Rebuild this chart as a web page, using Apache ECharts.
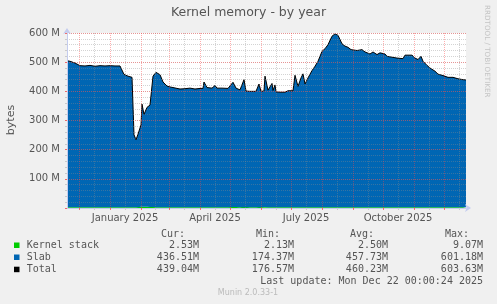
<!DOCTYPE html>
<html><head><meta charset="utf-8">
<script src="https://cdn.jsdelivr.net/npm/echarts@6/dist/echarts.min.js"></script>
<style>html,body{margin:0;padding:0;background:#F0F0F0;}#c{width:497px;height:304px;}</style>
</head><body><div id="c"></div>
<script>
// ---- data ----
const dates = ['2024-11-19','2024-11-22','2024-11-27','2024-12-02','2024-12-07','2024-12-12','2024-12-17','2024-12-22','2024-12-27',
'2025-01-01','2025-01-06','2025-01-11','2025-01-13','2025-01-15','2025-01-19','2025-01-23','2025-01-25','2025-01-27','2025-01-29',
'2025-02-01','2025-02-02','2025-02-04','2025-02-07','2025-02-10','2025-02-12','2025-02-13','2025-02-16','2025-02-20','2025-02-23','2025-02-27',
'2025-03-02','2025-03-05','2025-03-09','2025-03-12','2025-03-17','2025-03-22','2025-03-27',
'2025-04-01','2025-04-04','2025-04-05','2025-04-08','2025-04-13','2025-04-16','2025-04-18','2025-04-23','2025-04-29',
'2025-05-04','2025-05-07','2025-05-11','2025-05-15','2025-05-17','2025-05-21','2025-05-27','2025-05-30',
'2025-06-01','2025-06-04','2025-06-05','2025-06-08','2025-06-12','2025-06-13','2025-06-15','2025-06-16','2025-06-20','2025-06-25','2025-06-28',
'2025-07-03','2025-07-05','2025-07-08','2025-07-11','2025-07-13','2025-07-15','2025-07-18','2025-07-22','2025-07-25','2025-07-28',
'2025-08-01','2025-08-04','2025-08-07','2025-08-11','2025-08-14','2025-08-17','2025-08-19','2025-08-21','2025-08-24','2025-08-27','2025-08-30',
'2025-09-01','2025-09-05','2025-09-10','2025-09-13','2025-09-18','2025-09-21','2025-09-25','2025-09-28',
'2025-10-03','2025-10-05','2025-10-10','2025-10-15','2025-10-21','2025-10-23','2025-10-30',
'2025-11-02','2025-11-05','2025-11-08','2025-11-10','2025-11-14','2025-11-17','2025-11-22','2025-11-25','2025-11-30',
'2025-12-05','2025-12-10','2025-12-15','2025-12-20','2025-12-23'];

const kernelStack = [2.5,2.5,2.5,2.5,2.5,2.5,2.5,2.5,2.5,
2.5,2.5,2.5,2.5,2.5,2.5,2.5,2.5,2.5,2.5,
4,5,4,4,3.5,3.5,3.5,3,2.5,2.5,2.5,
2.5,2.5,2.5,2.5,2.5,2.5,2.5,
2.5,2.5,2.5,2.5,2.5,2.5,2.5,2.5,2.5,
3.5,3.5,3,4,3,3,3,3.5,
3,3,3.5,2.5,2.5,2.5,2.5,2.5,2.5,2.5,2.5,
2.5,2.5,2.5,2.5,2.5,2.5,2.5,2.5,2.5,2.5,
2.5,2.5,2.5,2.5,2.5,2.5,2.5,2.5,2.5,2.5,2.5,
2.5,2.5,2.5,2.5,2.5,2.5,2.5,2.5,
2.5,2.5,2.5,2.5,2.5,2.5,2.5,
2.5,2.5,2.5,2.5,2.5,2.5,2.5,2.5,2.5,
2.5,2.5,2.5,2.5,2.5];

const slab = [502.5,500.5,494.5,485.5,484.5,486.5,483.5,485.5,484.5,
485.5,484.5,484.5,482.5,455.5,449.5,445.5,248.5,231.5,250.5,
281,351,317,341,349.5,352.5,448.5,462,454.5,429.5,415.5,
412.5,410.5,407.5,405.5,406.5,408.5,405.5,
407.5,407.5,429.5,410.5,408.5,417.5,408.5,408.5,407.5,
427.5,407.5,402,436,398,397,397,421.5,
397,398,448.5,401.5,424.5,400.5,419.5,395.5,394.5,394.5,399.5,
399.5,452.5,414.5,443.5,457.5,422.5,443.5,468.5,483.5,500.5,
534.5,543.5,557.5,586.5,594.5,589.5,586.5,560.5,552.5,548.5,540.5,
543.5,537.5,540.5,532.5,525.5,532.5,523.5,529.5,
525.5,517.5,514.5,511.5,509.5,521.5,521.5,
511.5,506.5,517.5,500.5,486.5,477.5,466.5,456.5,451.5,
445.5,445.5,440.5,437.5,436.5];

const axisStart = '2024-11-19', axisEnd = '2025-12-23';
const majorDates = ['2024-12-01','2025-01-01','2025-02-01','2025-03-01','2025-04-01','2025-05-01','2025-06-01','2025-07-01','2025-08-01','2025-09-01','2025-10-01','2025-11-01','2025-12-01'];
const minorDates = ['2024-12-16','2025-01-16','2025-02-15','2025-03-16','2025-04-16','2025-05-16','2025-06-16','2025-07-16','2025-08-16','2025-09-16','2025-10-16','2025-11-16','2025-12-16'];
const xLabelDates = ['2025-01-16','2025-04-16','2025-07-16','2025-10-16'];
const xLabelTexts = ['January 2025','April 2025','July 2025','October 2025'];
const yMax = 600, yMajor = 100, yMinor = 20;

const legendNames = ['Kernel stack','Slab','Total'];
const statHeaders = ['Cur:','Min:','Avg:','Max:'];
const statCur = ['2.53M','436.51M','439.04M'];
const statMin = ['2.13M','174.37M','176.57M'];
const statAvg = ['2.50M','457.73M','460.23M'];
const statMax = ['9.07M','601.18M','603.63M'];
const lastUpdate = 'Last update: Mon Dec 22 00:00:24 2025';
const titleText = 'Kernel memory - by year';
const yName = 'bytes';
const sideText = 'RRDTOOL / TOBI OETIKER';
const versionText = 'Munin 2.0.33-1';

// ---- helpers ----
function ts(s){const p=s.split('-');return new Date(+p[0],+p[1]-1,+p[2]).getTime();}
const colors = ['#00CC00','#0066B3','#000000'];
const RED = 'rgba(255,64,64,0.42)', GRAY = 'rgba(140,140,140,0.38)', AXIS = '#C4CCEE';
const FONT = 'DejaVu Sans', MONO = 'DejaVu Sans Mono', TXT = '#555555';

const chart = echarts.init(document.getElementById('c'), null, {renderer:'canvas'});

const graphics = [];
graphics.push({type:'text', x:248.5, y:13, style:{text:titleText, fontFamily:FONT, fontSize:12.5, fill:TXT, align:'center', verticalAlign:'middle'}});
graphics.push({type:'text', x:11, y:120, rotation:Math.PI/2, style:{text:yName, fontFamily:FONT, fontSize:11, fill:TXT, align:'center', verticalAlign:'middle'}});
graphics.push({type:'text', x:487, y:5, rotation:-Math.PI/2, style:{text:sideText, fontFamily:FONT, fontSize:7.2, fill:'#C4C4C4', align:'left', verticalAlign:'middle'}});

const colRightHead = [185,280,374,469];
const colRightVal = [199,294,388,483];
const rowY = [245.5,257.5,269.7];
statHeaders.forEach((h,j)=>graphics.push({type:'text', x:colRightHead[j], y:234, style:{text:h, fontFamily:MONO, fontSize:10, fill:TXT, align:'right', verticalAlign:'middle'}}));
const stats = [statCur, statMin, statAvg, statMax];
legendNames.forEach((n,i)=>{
  graphics.push({type:'rect', shape:{x:14, y:rowY[i]-3, width:5.5, height:5.5}, style:{fill:colors[i]}});
  graphics.push({type:'text', x:26.7, y:rowY[i], style:{text:n, fontFamily:MONO, fontSize:10, fill:TXT, align:'left', verticalAlign:'middle'}});
  stats.forEach((col,j)=>graphics.push({type:'text', x:colRightVal[j], y:rowY[i], style:{text:col[i], fontFamily:MONO, fontSize:10, fill:TXT, align:'right', verticalAlign:'middle'}}));
});
graphics.push({type:'text', x:483, y:281.7, style:{text:lastUpdate, fontFamily:MONO, fontSize:10, fill:TXT, align:'right', verticalAlign:'middle'}});
graphics.push({type:'text', x:248, y:292.7, style:{text:versionText, fontFamily:FONT, fontSize:8, fill:'#BBBBBB', align:'center', verticalAlign:'middle'}});

const xMin = ts(axisStart), xMax = ts(axisEnd);
const labelTs = xLabelDates.map(ts);

chart.setOption({
  animation:false,
  backgroundColor:'#F0F0F0',
  grid:{left:67, top:33, width:399, height:175, show:true, backgroundColor:'#FFFFFF', borderWidth:0},
  xAxis:[{
    // time axis carrying the data (its own decorations hidden)
    type:'time', min:xMin, max:xMax, position:'bottom', z:1,
    axisLine:{show:false}, axisTick:{show:false}, splitLine:{show:false}, axisLabel:{show:false}
  },{
    // major grid (month starts) + labels
    type:'value', min:xMin, max:xMax, position:'bottom', z:6,
    axisLine:{show:true, lineStyle:{color:AXIS, width:1}, symbol:['none','arrow'], symbolSize:[6,6], symbolOffset:[0,5]},
    axisTick:{show:true, customValues:majorDates.map(ts), length:2, lineStyle:{color:'rgba(255,64,64,0.7)'}},
    splitLine:{show:true, lineStyle:{color:RED, type:[1,1], width:1}},
    axisLabel:{show:true, customValues:labelTs, margin:5, fontFamily:FONT, fontSize:10, color:TXT,
      formatter:function(v){const i=labelTs.indexOf(+v);return i>=0?xLabelTexts[i]:'';}}
  },{
    // minor grid
    type:'value', min:xMin, max:xMax, position:'bottom', z:5,
    axisLine:{show:false},
    axisTick:{show:true, customValues:minorDates.map(ts), length:2, lineStyle:{color:GRAY}},
    splitLine:{show:true, lineStyle:{color:GRAY, type:[1,1], width:1}},
    axisLabel:{show:false}
  }],
  yAxis:[{
    type:'value', min:0, max:yMax, interval:yMajor, position:'left', z:6,
    axisLine:{show:true, lineStyle:{color:AXIS, width:1}, symbol:['none','arrow'], symbolSize:[6,6], symbolOffset:[0,5]},
    axisTick:{show:true, length:2, lineStyle:{color:'rgba(255,64,64,0.7)'}},
    splitLine:{show:true, lineStyle:{color:RED, type:[1,1], width:1}},
    axisLabel:{margin:7, fontFamily:FONT, fontSize:10, color:TXT, formatter:function(v){return v===0?'':v+' M';}}
  },{
    type:'value', min:0, max:yMax, interval:yMinor, position:'left', offset:0, z:5,
    axisLine:{show:false},
    axisTick:{show:true, length:2, lineStyle:{color:GRAY}},
    splitLine:{show:true, lineStyle:{color:GRAY, type:[1,1], width:1}},
    axisLabel:{show:false}
  }],
  series:[{
    name:legendNames[0], type:'line', stack:'mem', symbol:'none', z:2, xAxisIndex:0, yAxisIndex:0,
    data:dates.map((d,i)=>[ts(d), kernelStack[i]]),
    lineStyle:{width:0}, itemStyle:{color:colors[0]}, areaStyle:{color:colors[0], opacity:1}
  },{
    name:legendNames[1], type:'line', stack:'mem', symbol:'none', z:2, xAxisIndex:0, yAxisIndex:0,
    data:dates.map((d,i)=>[ts(d), slab[i]]),
    lineStyle:{width:1, color:colors[2]}, itemStyle:{color:colors[1]}, areaStyle:{color:colors[1], opacity:1}
  }],
  graphic:graphics
});
</script></body></html>
